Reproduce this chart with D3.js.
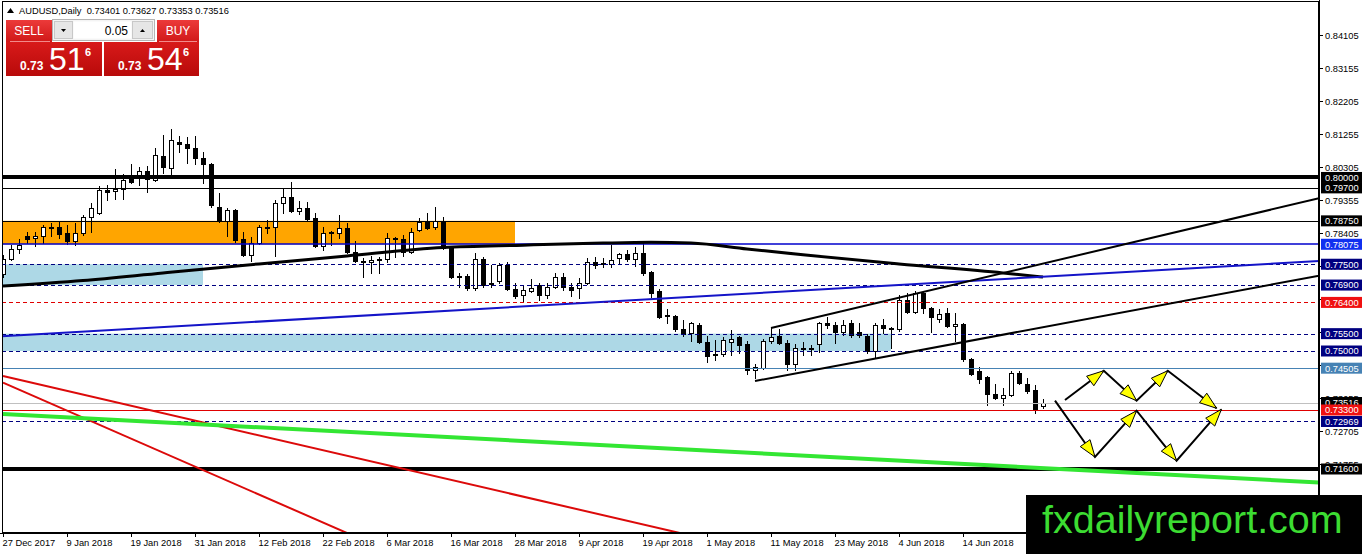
<!DOCTYPE html>
<html><head><meta charset="utf-8">
<script src="https://cdn.jsdelivr.net/npm/d3@7"></script>
<style>
html,body{margin:0;padding:0;background:#fff;overflow:hidden}
svg{display:block}
text{font-family:"Liberation Sans",Arial,sans-serif}
</style></head><body>
<svg id="c" width="1362" height="554"></svg>
<script>
// ---------------- DATA ----------------
const symbolName = "AUDUSD,Daily";
const lastOHLC = [0.73401, 0.73627, 0.73353, 0.73516];
const sellQuote = ["0.73", "51", "6"];
const buyQuote = ["0.73", "54", "6"];
const lotSize = "0.05";

const open = [0.7722,0.7765,0.7794,0.7832,0.7826,0.7832,0.7858,0.7858,0.7841,0.7817,
0.7841,0.7887,0.7898,0.7965,0.7962,0.7968,0.7997,0.8003,0.8018,0.7994,
0.8061,0.8026,0.8101,0.8096,0.8084,0.8055,0.8040,0.7916,0.7875,0.7907,
0.7823,0.7777,0.7812,0.7858,0.7858,0.7925,0.7945,0.7904,0.7913,0.7884,
0.7803,0.7843,0.7841,0.7855,0.7786,0.7759,0.7756,0.7765,0.7765,0.7826,
0.7823,0.7786,0.7849,0.7872,0.7858,0.7872,0.7800,0.7716,0.7716,0.7681,
0.7765,0.7693,0.7701,0.7748,0.7678,0.7661,0.7672,0.7690,0.7661,0.7684,
0.7713,0.7684,0.7681,0.7696,0.7756,0.7753,0.7751,0.7768,0.7780,0.7765,
0.7783,0.7728,0.7672,0.7603,0.7600,0.7562,0.7551,0.7574,0.7525,0.7491,
0.7491,0.7525,0.7539,0.7519,0.7444,0.7450,0.7528,0.7542,0.7522,0.7462,
0.7510,0.7507,0.7519,0.7580,0.7574,0.7554,0.7580,0.7554,0.7542,0.7499,
0.7574,0.7565,0.7563,0.7647,0.7612,0.7667,0.7623,0.7591,0.7609,0.7571,
0.7577,0.7476,0.7441,0.7424,0.7377,0.7366,0.7374,0.7438,0.7406,0.7389,
0.73401];
const high = [0.7777,0.7806,0.7823,0.7843,0.7843,0.7864,0.7870,0.7872,0.7864,0.7870,
0.7893,0.7925,0.7974,0.7977,0.8023,0.8009,0.8040,0.8029,0.8032,0.8084,
0.8122,0.8139,0.8119,0.8116,0.8119,0.8072,0.8043,0.7954,0.7913,0.7910,
0.7843,0.7829,0.7864,0.7878,0.7936,0.7971,0.7988,0.7933,0.7930,0.7899,
0.7858,0.7846,0.7893,0.7870,0.7817,0.7768,0.7774,0.7771,0.7841,0.7829,
0.7835,0.7855,0.7884,0.7899,0.7916,0.7887,0.7803,0.7725,0.7722,0.7783,
0.7771,0.7748,0.7754,0.7756,0.7696,0.7690,0.7707,0.7696,0.7696,0.7725,
0.7725,0.7696,0.7710,0.7768,0.7771,0.7768,0.7806,0.7783,0.7791,0.7800,
0.7812,0.7730,0.7678,0.7620,0.7603,0.7588,0.7583,0.7580,0.7542,0.7531,
0.7540,0.7560,0.7542,0.7528,0.7462,0.7536,0.7568,0.7562,0.7533,0.7519,
0.7525,0.7516,0.7583,0.7597,0.7583,0.7588,0.7588,0.7580,0.7548,0.7580,
0.7591,0.7568,0.7661,0.7667,0.7672,0.7670,0.7626,0.7620,0.7623,0.7609,
0.7580,0.7481,0.7453,0.7427,0.7406,0.7392,0.7441,0.7441,0.7421,0.7403,
0.73627];
const low = [0.7713,0.7762,0.7783,0.7812,0.7803,0.7812,0.7832,0.7826,0.7809,0.7806,
0.7835,0.7843,0.7896,0.7936,0.7939,0.7939,0.7983,0.7977,0.7957,0.7991,
0.8012,0.8006,0.8072,0.8043,0.8040,0.7985,0.7916,0.7872,0.7832,0.7815,
0.7774,0.7759,0.7809,0.7841,0.7774,0.7898,0.7901,0.7896,0.7878,0.7800,
0.7791,0.7806,0.7826,0.7783,0.7756,0.7713,0.7725,0.7725,0.7756,0.7771,
0.7774,0.7783,0.7846,0.7852,0.7852,0.7794,0.7710,0.7684,0.7675,0.7675,
0.7684,0.7684,0.7696,0.7675,0.7652,0.7641,0.7669,0.7646,0.7652,0.7681,
0.7675,0.7658,0.7652,0.7693,0.7739,0.7742,0.7742,0.7754,0.7759,0.7745,
0.7719,0.7655,0.7594,0.7580,0.7559,0.7542,0.7528,0.7522,0.7467,0.7473,
0.7485,0.7488,0.7493,0.7433,0.7421,0.7447,0.7522,0.7519,0.7444,0.7444,
0.7488,0.7488,0.7496,0.7565,0.7522,0.7545,0.7539,0.7539,0.7493,0.7479,
0.7551,0.7510,0.7559,0.7609,0.7609,0.7609,0.7556,0.7583,0.7568,0.7528,
0.7470,0.7432,0.7409,0.7345,0.7363,0.7343,0.7371,0.7406,0.7380,0.7322,
0.73353];
const close = [0.7765,0.7794,0.7806,0.7823,0.7832,0.7858,0.7855,0.7838,0.7817,0.7841,
0.7887,0.7913,0.7965,0.7959,0.7968,0.7994,0.7988,0.8018,0.7997,0.8064,
0.8029,0.8107,0.8096,0.8084,0.8055,0.8040,0.7922,0.7875,0.7907,0.7820,
0.7777,0.7812,0.7858,0.7855,0.7925,0.7945,0.7904,0.7913,0.7881,0.7803,
0.7841,0.7841,0.7855,0.7786,0.7759,0.7756,0.7762,0.7763,0.7826,0.7823,
0.7786,0.7843,0.7872,0.7855,0.7875,0.7797,0.7713,0.7713,0.7681,0.7765,
0.7690,0.7696,0.7748,0.7678,0.7658,0.7675,0.7681,0.7661,0.7684,0.7713,
0.7684,0.7675,0.7696,0.7756,0.7748,0.7751,0.7762,0.7780,0.7765,0.7783,
0.7725,0.7667,0.7597,0.7600,0.7562,0.7548,0.7580,0.7525,0.7485,0.7488,
0.7531,0.7536,0.7517,0.7444,0.7453,0.7528,0.7539,0.7522,0.7462,0.7510,
0.7507,0.7508,0.7580,0.7574,0.7554,0.7574,0.7545,0.7545,0.7499,0.7574,
0.7565,0.7563,0.7647,0.7612,0.7667,0.7623,0.7597,0.7606,0.7571,0.7577,
0.7476,0.7435,0.7418,0.7377,0.7366,0.7374,0.7438,0.7409,0.7386,0.7334,
0.73516];

const dateLabels = ["27 Dec 2017","9 Jan 2018","19 Jan 2018","31 Jan 2018","12 Feb 2018",
"22 Feb 2018","6 Mar 2018","16 Mar 2018","28 Mar 2018","9 Apr 2018","19 Apr 2018",
"1 May 2018","11 May 2018","23 May 2018","4 Jun 2018","14 Jun 2018"];
const barsPerDateLabel = 8;

const priceTicks = [0.84105,0.83155,0.82205,0.81255,0.80305,0.79355,0.78405,0.77455,
0.76505,0.75555,0.74605,0.73655,0.72705,0.71755,0.70805];

// horizontal levels and their kind
const levelPrices = [0.80000,0.79700,0.78750,0.78075,0.77500,0.76900,0.76400,0.75500,0.75000,0.74505,0.73516,0.73300,0.72969,0.71600];
const levelKinds  = ["major","minor","minor","blue","navy","navy","red","navy","navy","steel","bid","redSolid","navy","major"];

// zones: [startBar, endBar, priceTop, priceBottom]
const orangeZone = [-5, 64, 0.78750, 0.78075];
const blueZoneTop = [-5, 25, 0.77500, 0.76900];
const blueZoneMid = [-5, 111, 0.75500, 0.75000];

// moving average (bar, value)
const maBars   = [0,10,20,32,43,55,65,75,81,86,93,100,112,125,130];
const maValues = [0.7687,0.7703,0.7725,0.7751,0.7774,0.7798,0.7805,0.7811,0.7813,0.7811,0.7794,0.7777,0.7751,0.7725,0.7713];

// trend lines: two anchors [bar, price]
const blueTrend   = [[0,0.75426],[130,0.77138]];
const redTrendA   = [[0,0.74280],[52.125,0.71493]];
const redTrendB   = [[0,0.74087],[43,0.69756]];
const greenTrend  = [[0,0.73185],[130,0.71626]];
const channelTop  = [[96,0.75663],[115,0.76700]];
const channelBot  = [[94,0.74136],[130,0.75686]];

// projected zig-zag scenarios [bar, price]
const scenarioUp   = [[132.75,0.73588],[137.6,0.74432],[141.7,0.73568],[145.6,0.74432],[151.7,0.73349]];
const scenarioDown = [[131.5,0.73568],[136.5,0.71946],[141.7,0.73280],[146.7,0.71839],[152.3,0.73320]];

const watermark = "fxdailyreport.com";

// ---------------- DRAW ----------------
const svg = d3.select("#c");
const L = 2, R = 1319, T = 1, B = 533;
const x = d3.scaleLinear().domain([0, 130]).range([3, 1043]);
const y = d3.scaleLinear().domain([0.716, 0.84105]).range([469, 35]);
const fmt = d3.format(".5f");

svg.append("rect").attr("width",1362).attr("height",554).attr("fill","#fff");
svg.append("defs").append("clipPath").attr("id","plot")
  .append("rect").attr("x",L).attr("y",T).attr("width",R-L).attr("height",B-T);

const plot = svg.append("g").attr("clip-path","url(#plot)");

// zones
function zone(z, color){
  plot.append("rect")
    .attr("x", x(z[0])).attr("y", y(z[2]))
    .attr("width", x(z[1]) - x(z[0])).attr("height", y(z[3]) - y(z[2]))
    .attr("fill", color);
}
zone(orangeZone, "#ffa500");
zone(blueZoneTop, "#add8e6");
zone(blueZoneMid, "#add8e6");

// candles
const cg = plot.append("g").attr("shape-rendering","crispEdges");
const idx = d3.range(open.length);
idx.forEach(i=>{
  const cx = Math.round(x(i)) + 0.5;
  const bull = close[i] >= open[i];
  cg.append("line").attr("x1",cx).attr("x2",cx)
    .attr("y1",Math.round(y(high[i]))).attr("y2",Math.round(y(low[i]))+1)
    .attr("stroke","#000").attr("stroke-width",1);
  const t = Math.round(y(Math.max(open[i],close[i]))) + 0.5;
  const b = Math.round(y(Math.min(open[i],close[i]))) + 0.5;
  if (b - t < 1) {
    cg.append("line").attr("x1",cx-2.5).attr("x2",cx+2.5).attr("y1",t).attr("y2",t)
      .attr("stroke","#000");
  } else {
    cg.append("rect").attr("x",cx-2).attr("y",t).attr("width",4).attr("height",b-t)
      .attr("fill", bull ? "#fff" : "#000").attr("stroke","#000").attr("stroke-width",1);
  }
});

// horizontal levels
const levelStyle = {
  major:{c:"#000",w:4,d:null},
  minor:{c:"#000",w:1,d:null},
  blue:{c:"#0000cd",w:1.3,d:null},
  navy:{c:"#000080",w:1,d:"4,3"},
  red:{c:"#e00000",w:1,d:"4,3"},
  steel:{c:"#4682b4",w:1,d:null},
  bid:{c:"#c0c0c0",w:1,d:null},
  redSolid:{c:"#e00000",w:1,d:null}
};
levelPrices.forEach((p,i)=>{
  const s = levelStyle[levelKinds[i]];
  const yy = s.w % 2 === 1 ? Math.round(y(p)) + 0.5 : Math.round(y(p));
  plot.append("line").attr("x1",L).attr("x2",R).attr("y1",yy).attr("y2",yy)
    .attr("stroke",s.c).attr("stroke-width",s.w).attr("stroke-dasharray",s.d);
});

// moving average
plot.append("path")
  .datum(maBars.map((b,i)=>[b,maValues[i]]))
  .attr("d", d3.line().x(d=>x(d[0])).y(d=>y(d[1])).curve(d3.curveMonotoneX))
  .attr("fill","none").attr("stroke","#000").attr("stroke-width",3);

// trend lines
function trend(pts, color, w, both){
  const x1 = x(pts[0][0]), y1 = y(pts[0][1]), x2 = x(pts[1][0]), y2 = y(pts[1][1]);
  const k = (y2 - y1) / (x2 - x1);
  const xs = both ? L : x1, xe = R;
  plot.append("line").attr("x1",xs).attr("y1",y1 + k*(xs-x1))
    .attr("x2",xe).attr("y2",y1 + k*(xe-x1))
    .attr("stroke",color).attr("stroke-width",w);
}
trend(blueTrend, "#1414c8", 2, true);
trend(redTrendA, "#dc0a0a", 2, false);
trend(redTrendB, "#dc0a0a", 2, false);
trend(greenTrend, "#33e633", 4, false);
trend(channelTop, "#000", 2, false);
trend(channelBot, "#000", 2, false);

// zig-zag scenarios with arrowheads
function zigzag(pts){
  const P = pts.map(d=>[x(d[0]), y(d[1])]);
  plot.append("path").attr("d", d3.line()(P))
    .attr("fill","none").attr("stroke","#000").attr("stroke-width",2);
  for (let i=1;i<P.length;i++){
    const [ax,ay] = P[i-1], [bx,by] = P[i];
    const a = Math.atan2(by-ay, bx-ax);
    const len = 17, hw = 6;
    const baseX = bx - len*Math.cos(a), baseY = by - len*Math.sin(a);
    const px = -Math.sin(a)*hw, py = Math.cos(a)*hw;
    plot.append("path")
      .attr("d", `M${bx},${by}L${baseX+px},${baseY+py}L${baseX-px},${baseY-py}Z`)
      .attr("fill","#ffff00").attr("stroke","#000").attr("stroke-width",1);
  }
}
zigzag(scenarioUp);
zigzag(scenarioDown);

// frame & axes
svg.append("rect").attr("x",L+0.5).attr("y",T+0.5).attr("width",R-L-1).attr("height",B-T-1)
  .attr("fill","none").attr("stroke","#000").attr("stroke-width",1);
svg.append("line").attr("x1",R+0.5).attr("x2",R+0.5).attr("y1",0).attr("y2",B+1).attr("stroke","#000");
svg.append("line").attr("x1",0).attr("x2",R+1).attr("y1",B+0.5).attr("y2",B+0.5).attr("stroke","#000");

// bottom date labels
dateLabels.forEach((lab,i)=>{
  const tx = Math.round(x(i*barsPerDateLabel)) + 0.5;
  svg.append("line").attr("x1",tx).attr("x2",tx).attr("y1",B).attr("y2",B+4).attr("stroke","#000");
  svg.append("text").attr("x",tx-1).attr("y",546).attr("font-size","9.3px").attr("fill","#000").text(lab);
});

// price ticks
priceTicks.forEach(p=>{
  const yy = Math.round(y(p)) + 0.5;
  svg.append("line").attr("x1",R).attr("x2",R+4).attr("y1",yy).attr("y2",yy).attr("stroke","#000");
  svg.append("text").attr("x",1325).attr("y",yy+3.3).attr("font-size","9.3px").attr("fill","#000").text(fmt(p));
});

// level price boxes
const boxColor = {major:"#000",minor:"#000",blue:"#1030f0",navy:"#000080",red:"#f01010",steel:"#4682b4",bid:"#000",redSolid:"#f01010"};
const order = d3.range(levelPrices.length).sort((a,b)=> (levelKinds[a]==="redSolid") - (levelKinds[b]==="redSolid"));
order.forEach(i=>{
  const p = levelPrices[i];
  const yy = y(p);
  const g = svg.append("g");
  g.append("rect").attr("x",1321).attr("y",yy-5.5).attr("width",41).attr("height",11).attr("fill",boxColor[levelKinds[i]]);
  g.append("text").attr("x",1325).attr("y",yy+3.4).attr("font-size","9.3px").attr("fill","#fff").text(fmt(p));
});

// watermark
svg.append("rect").attr("x",1026).attr("y",495).attr("width",336).attr("height",59).attr("fill","#000");
svg.append("text").attr("x",1042).attr("y",533).attr("font-size","39.5px").attr("fill","#3cdc32").text(watermark);

// header
svg.append("path").attr("d","M7,13L10.5,8L14,13Z").attr("fill","#000");
svg.append("text").attr("x",19).attr("y",14).attr("font-size","9.3px").attr("fill","#000")
  .style("white-space","pre").text(symbolName + "  " + lastOHLC.map(fmt).join(" "));

// trade panel
const defs = svg.select("defs");
const g1 = defs.append("linearGradient").attr("id","btn").attr("x1",0).attr("y1",0).attr("x2",0).attr("y2",1);
g1.append("stop").attr("offset","0").attr("stop-color","#ec3a3a");
g1.append("stop").attr("offset","1").attr("stop-color","#d01818");
const g2 = defs.append("linearGradient").attr("id","box").attr("x1",0).attr("y1",0).attr("x2",0).attr("y2",1);
g2.append("stop").attr("offset","0").attr("stop-color","#d81a1a");
g2.append("stop").attr("offset","1").attr("stop-color","#b80a0a");

const tp = svg.append("g");
tp.append("rect").attr("x",6).attr("y",20).attr("width",46).attr("height",22).attr("fill","url(#btn)");
tp.append("rect").attr("x",157).attr("y",20).attr("width",42).attr("height",22).attr("fill","url(#btn)");
tp.append("rect").attr("x",6).attr("y",42).attr("width",96).attr("height",34).attr("fill","url(#box)");
tp.append("rect").attr("x",104).attr("y",42).attr("width",95).attr("height",34).attr("fill","url(#box)");
tp.append("line").attr("x1",10).attr("x2",50).attr("y1",41.5).attr("y2",41.5).attr("stroke","#f28a8a");
tp.append("line").attr("x1",159).attr("x2",197).attr("y1",41.5).attr("y2",41.5).attr("stroke","#f28a8a");
tp.append("text").attr("x",29).attr("y",35).attr("text-anchor","middle").attr("font-size","12px")
  .attr("font-family","Roboto, sans-serif").attr("fill","#fff").text("SELL");
tp.append("text").attr("x",178).attr("y",35).attr("text-anchor","middle").attr("font-size","12px")
  .attr("font-family","Roboto, sans-serif").attr("fill","#fff").text("BUY");
// spinner
tp.append("rect").attr("x",52.5).attr("y",19.5).attr("width",102).attr("height",21).attr("fill","#f4f4f4").attr("stroke","#b4b4b4");
tp.append("rect").attr("x",54.5).attr("y",21.5).attr("width",18).attr("height",17).attr("fill","#e6e6e6").attr("stroke","#c8c8c8");
tp.append("rect").attr("x",132.5).attr("y",21.5).attr("width",20).attr("height",17).attr("fill","#e6e6e6").attr("stroke","#c8c8c8");
tp.append("rect").attr("x",73.5).attr("y",21.5).attr("width",58).attr("height",17).attr("fill","#fff");
tp.append("path").attr("d","M61,29L66,29L63.5,32Z").attr("fill","#000");
tp.append("path").attr("d","M140,32L145,32L142.5,29Z").attr("fill","#000");
tp.append("text").attr("x",128).attr("y",34.5).attr("text-anchor","end").attr("font-size","12px")
  .attr("font-family","Roboto, sans-serif").attr("fill","#000").text(lotSize);
// quotes
function quote(q, x0){
  tp.append("text").attr("x",x0).attr("y",70).attr("font-size","12px").attr("font-weight","bold").attr("fill","#fff").text(q[0]);
  tp.append("text").attr("x",x0+29).attr("y",70).attr("font-size","32px").attr("fill","#fff").text(q[1]);
  tp.append("text").attr("x",x0+65).attr("y",56).attr("font-size","11px").attr("font-weight","bold").attr("fill","#fff").text(q[2]);
}
quote(sellQuote, 20);
quote(buyQuote, 118);
</script>
</body></html>
